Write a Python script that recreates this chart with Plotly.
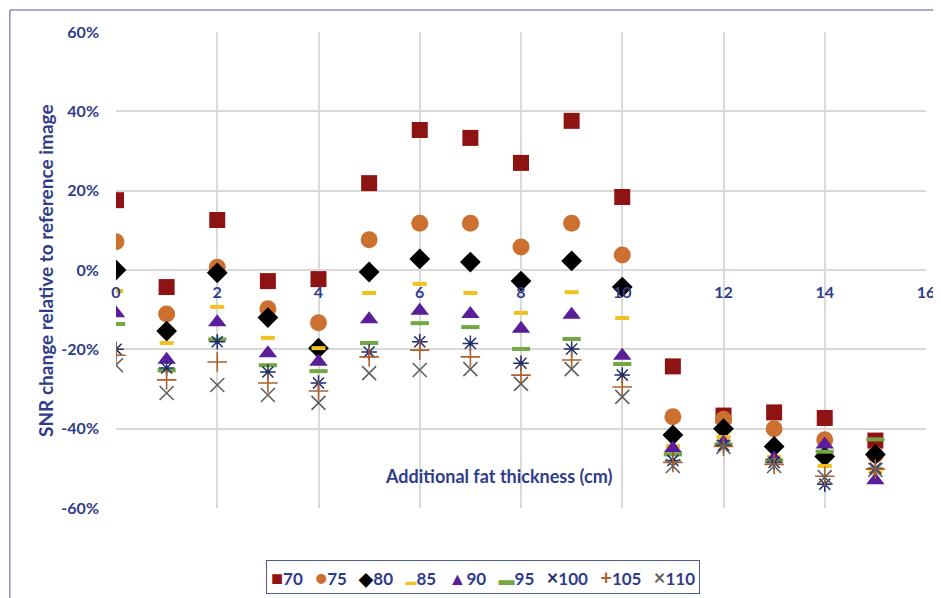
import plotly.graph_objects as go

thickness = list(range(16))
series_names = ["70", "75", "80", "85", "90", "95", "100", "105", "110"]

snr_70 = [17.6, -4.3, 12.6, -2.8, -2.3, 21.9, 35.3, 33.3, 27.0, 37.6, 18.4, -24.3, -36.7, -35.9, -37.3, -43.0]
snr_75 = [7.1, -11.1, 0.7, -9.8, -13.3, 7.6, 11.8, 11.8, 5.8, 11.8, 3.8, -37.0, -37.6, -40.0, -42.8, -46.6]
snr_80 = [0.0, -15.4, -0.7, -12.0, -19.7, -0.5, 2.8, 2.0, -2.8, 2.3, -4.3, -41.6, -40.0, -44.5, -47.0, -46.5]
snr_85 = [-5.3, -18.4, -9.3, -17.1, -19.7, -5.8, -3.5, -5.8, -10.8, -5.6, -12.1, -44.4, -42.1, -47.1, -49.4, -51.0]
snr_90 = [-10.9, -22.6, -13.2, -21.0, -23.1, -12.4, -10.3, -11.1, -14.8, -11.3, -21.6, -45.0, -43.5, -47.5, -44.0, -53.0]
snr_95 = [-13.6, -25.3, -17.5, -24.0, -25.5, -18.4, -13.4, -14.4, -19.9, -17.4, -23.7, -46.5, -44.0, -48.0, -45.8, -42.7]
snr_100 = [-20.0, -24.7, -18.1, -25.7, -28.5, -20.7, -18.1, -18.5, -23.5, -19.9, -26.5, -48.0, -44.2, -48.5, -54.0, -50.0]
snr_105 = [-21.5, -27.7, -23.2, -28.5, -30.5, -21.9, -20.2, -21.9, -26.5, -22.7, -29.5, -48.5, -44.5, -49.0, -52.0, -50.2]
snr_110 = [-24.0, -31.0, -29.0, -31.5, -33.5, -26.0, -25.2, -25.0, -28.7, -25.0, -32.0, -49.4, -44.6, -49.4, -52.2, -50.4]

y_ticks = [-60, -40, -20, 0, 20, 40, 60]
y_tick_labels = ["-60%", "-40%", "-20%", "0%", "20%", "40%", "60%"]
x_ticks = [0, 2, 4, 6, 8, 10, 12, 14, 16]

all_series = [snr_70, snr_75, snr_80, snr_85, snr_90, snr_95, snr_100, snr_105, snr_110]

colors = ["#8E1414", "#CC7030", "#000000", "#F2C01F", "#5A1E9A", "#72A844", "#1F2D6B", "#B0602A", "#606060"]
legend_glyphs = ["■", "●", "◆", "▬", "▲", "▬", "×", "+", "×"]
legend_glyph_sizes = [20, 20, 18, 11, 18, 16, 20, 20, 20]

styles = [
    dict(symbol="square", size=16, line=dict(width=0)),
    dict(symbol="circle", size=17, line=dict(width=0)),
    dict(symbol="diamond", size=16, line=dict(width=0)),
    dict(symbol="line-ew-open", size=10, line=dict(width=4)),
    dict(symbol="triangle-up", size=16, line=dict(width=0)),
    dict(symbol="line-ew-open", size=13, line=dict(width=4)),
    dict(symbol="asterisk-open", size=13, line=dict(width=1.5)),
    dict(symbol="cross-thin-open", size=14, line=dict(width=1.6)),
    dict(symbol="x-thin-open", size=14, line=dict(width=1.6)),
]

text_color = "#2F3C8A"
font_family = "Lato"

fig = go.Figure()
for name, vals, st, col in zip(series_names, all_series, styles, colors):
    st = dict(st)
    st["color"] = col
    st["line"] = dict(st["line"], color=col)
    fig.add_trace(go.Scatter(x=thickness, y=vals, mode="markers", name=name, marker=st,
                             showlegend=False))

legend_parts = []
for name, col, g, gs in zip(series_names, colors, legend_glyphs, legend_glyph_sizes):
    legend_parts.append(f'<span style="color:{col};font-size:{gs}px">{g}</span>{name}')
legend_text = "&nbsp;&nbsp;&nbsp;".join(legend_parts)

# page body has an 8px default margin; the figure is sized to fit the window
fig.update_layout(
    width=933, height=590,
    margin=dict(l=108, r=15, t=24, b=90, autoexpand=False),
    paper_bgcolor="white", plot_bgcolor="white",
    font=dict(family=font_family, size=16, color=text_color, weight="bold"),
    showlegend=False,
    xaxis=dict(
        range=[0, 16], tickvals=x_ticks, showgrid=True, gridcolor="#D9D9D9", gridwidth=1.5,
        zeroline=False, showline=False, anchor="free", position=0.5, layer="above traces",
        tickfont=dict(size=16, weight="bold", color=text_color), ticks="", ticklabelstandoff=11,
    ),
    yaxis=dict(
        range=[-60, 60], tickvals=y_ticks, ticktext=y_tick_labels, showgrid=True, gridcolor="#D9D9D9",
        gridwidth=1.5, zeroline=False, showline=False,
        tickfont=dict(size=16, weight="bold", color=text_color), ticks="", ticklabelstandoff=16,
    ),
    annotations=[
        dict(text="SNR change relative to reference image", xref="paper", yref="paper",
             x=-0.0877, y=0.5, xanchor="center", yanchor="middle", textangle=-90, showarrow=False,
             font=dict(size=19, color=text_color, weight="bold")),
        dict(text="Additional fat thickness (cm)", xref="x", yref="y", x=7.55, y=-52,
             xanchor="center", yanchor="middle",
             showarrow=False, font=dict(size=18, color=text_color, weight="bold")),
        dict(text=legend_text, xref="paper", yref="paper", x=0.4525, y=-0.145,
             xanchor="center", yanchor="middle", showarrow=False,
             bordercolor="#4F5B93", borderwidth=1, borderpad=4,
             font=dict(size=17, color=text_color, weight="bold")),
    ],
    shapes=[
        dict(type="rect", xref="paper", yref="paper", x0=-0.131, x1=1.0148, y0=-0.25, y1=1.0462,
             line=dict(color="#4F5B93", width=1), fillcolor="rgba(0,0,0,0)", layer="below"),
    ],
)

fig.write_html("out.html")
